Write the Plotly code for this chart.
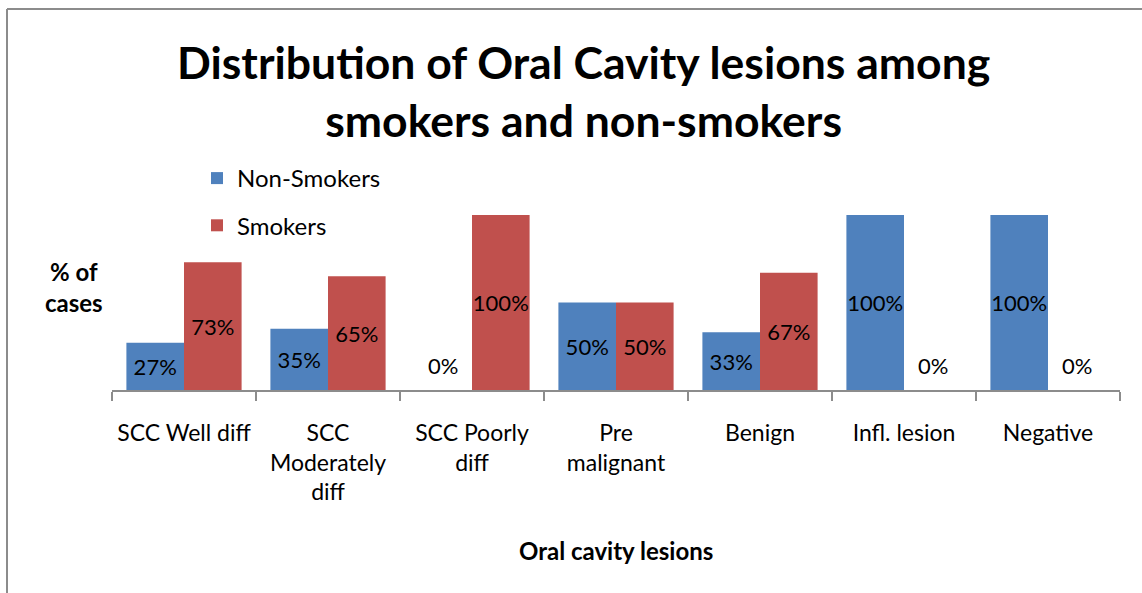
import plotly.graph_objects as go

# Data
categories = ["SCC Well diff", "SCC Moderately diff", "SCC Poorly diff",
              "Pre malignant", "Benign", "Infl. lesion", "Negative"]
tick_labels = ["SCC Well diff", "SCC<br>Moderately<br>diff", "SCC Poorly<br>diff",
               "Pre<br>malignant", "Benign", "Infl. lesion", "Negative"]
non_smokers = [27, 35, 0, 50, 33, 100, 100]
smokers = [73, 65, 100, 50, 67, 0, 0]

BLUE = "#4F81BD"
RED = "#C0504D"
FONT = "Lato"

# Plot area placement in pixels
W, H = 1142, 593
L, R, T, B = 112, 22, 215, 203
PW, PH = W - L - R, H - T - B


def px_x(x):
    return (x - L) / PW


def px_y(y):
    return (H - B - y) / PH


def label(v):
    return f"{v}%" if v > 0 else ""


fig = go.Figure()
for name, vals, color, grp in [("Non-Smokers", non_smokers, BLUE, "a"),
                               ("Smokers", smokers, RED, "b")]:
    fig.add_trace(go.Bar(
        x=categories, y=vals, name=name, legendgroup=grp,
        marker=dict(color=color, line=dict(width=0)),
        text=[label(v) for v in vals],
        textposition="inside", insidetextanchor="middle",
        constraintext="none", textangle=0,
        textfont=dict(family=FONT, size=22, color="black"),
        hoverinfo="skip",
    ))

annotations = []
# zero-value labels sit just above the baseline
n = len(categories)
for series_idx, vals in enumerate([non_smokers, smokers]):
    for i, v in enumerate(vals):
        if v == 0:
            annotations.append(dict(
                x=categories[i], y=v, xref="x", yref="y",
                text=f"{v}%", showarrow=False,
                xshift=(-1 if series_idx == 0 else 1) * PW / n * 0.2,
                yshift=25, font=dict(family=FONT, size=22, color="black"),
            ))

annotations += [
    dict(text="<b>Distribution of Oral Cavity lesions among<br>smokers and non-smokers</b>",
         x=px_x(583), y=px_y(90), xref="paper", yref="paper",
         xanchor="center", yanchor="middle", showarrow=False,
         font=dict(family=FONT, size=44.5, color="black")),
    dict(text="<b>% of<br>cases</b>", x=px_x(74), y=px_y(287),
         xref="paper", yref="paper", xanchor="center", yanchor="middle",
         showarrow=False, font=dict(family=FONT, size=24, color="black")),
    dict(text="<b>Oral cavity lesions</b>", x=px_x(616), y=px_y(550),
         xref="paper", yref="paper", xanchor="center", yanchor="middle",
         showarrow=False, font=dict(family=FONT, size=24, color="black")),
]

shapes = [
    dict(type="line", xref="paper", yref="paper",
         x0=px_x(7), x1=px_x(7), y0=px_y(9), y1=px_y(600),
         line=dict(color="#8c8c8c", width=2)),
    dict(type="line", xref="paper", yref="paper",
         x0=px_x(7), x1=px_x(1150), y0=px_y(9), y1=px_y(9),
         line=dict(color="#8c8c8c", width=2)),
]

fig.update_layout(
    width=W, height=H,
    margin=dict(l=L, r=R, t=T, b=B, pad=0),
    paper_bgcolor="white", plot_bgcolor="white",
    barmode="group", bargap=0.2, bargroupgap=0,
    font=dict(family=FONT, size=20, color="black"),
    showlegend=True,
    legend=dict(x=px_x(197), y=px_y(156), xanchor="left", yanchor="top",
                orientation="v", traceorder="grouped", tracegroupgap=13,
                font=dict(family=FONT, size=24, color="black"),
                bgcolor="rgba(0,0,0,0)"),
    annotations=annotations,
    shapes=shapes,
    xaxis=dict(
        type="category", tickvals=categories, ticktext=tick_labels,
        tickangle=0,
        showline=True, linecolor="#8c8c8c", linewidth=2,
        ticks="outside", tickson="boundaries", ticklen=9,
        tickcolor="#8c8c8c", tickwidth=2,
        ticklabelstandoff=21,
        tickfont=dict(family=FONT, size=23, color="black"),
        showgrid=False, zeroline=False, fixedrange=True,
    ),
    yaxis=dict(range=[0, 100], visible=False, showgrid=False,
               zeroline=False, fixedrange=True),
)

fig.write_html("out.html", config={"displayModeBar": False})
